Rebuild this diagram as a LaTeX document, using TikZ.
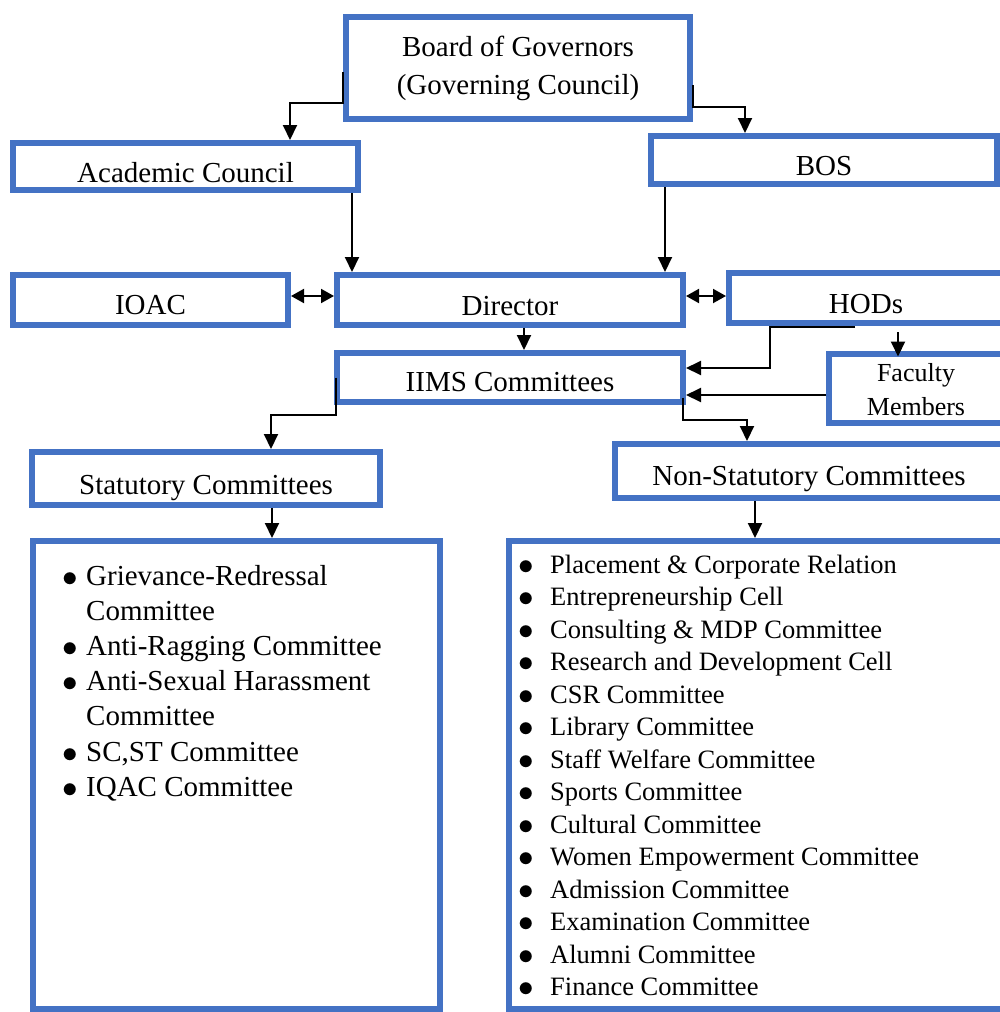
\documentclass[tikz,border=0pt]{standalone}
\usepackage{fontspec}
\usepackage{graphicx}
\setmainfont{Liberation Serif}
\usetikzlibrary{arrows.meta,calc}
\definecolor{boxblue}{HTML}{4472C4}
\newcommand{\mybul}{\raisebox{-0.04em}{\scalebox{1.25}{$\bullet$}}}
\begin{document}
\begin{tikzpicture}[x=1pt,y=-1pt,
  box/.style={draw=boxblue, line width=6pt, inner sep=0pt, align=center,
    font=\fontsize{29}{38}\selectfont},
  th/.style={text height=#1, text depth=0pt},
  arr/.style={line width=2pt, -{Triangle[length=15pt,width=14pt]}},
  dbl/.style={line width=2pt, {Triangle[length=13pt,width=14pt]}-{Triangle[length=13pt,width=14pt]}},
  listtext/.style={anchor=base west, inner sep=0pt}]
\useasboundingbox (0,0) rectangle (1000,1012);
\clip (0,0) rectangle (1000,1012);

% boxes
\node[box, minimum width=344pt, minimum height=102pt] (board) at (518,68) {Board of Governors\\(Governing Council)};
\node[box, th=32pt, minimum width=345pt, minimum height=47pt] (acad) at (185.5,166.5) {Academic Council};
\node[box, th=31pt, minimum width=346pt, minimum height=48pt] (bos) at (824,160) {BOS};
\node[box, th=29pt, minimum width=275pt, minimum height=50pt] (ioac) at (150.5,300) {IOAC};
\node[box, th=30pt, minimum width=346pt, minimum height=50pt] (dir) at (510,300) {Director};
\node[box, th=30pt, minimum width=274pt, minimum height=50pt] (hods) at (866,298) {HODs};
\node[box, th=28pt, minimum width=346pt, minimum height=49pt] (iims) at (510,377.5) {IIMS Committees};
\node[box, minimum width=174pt, minimum height=69pt, font=\fontsize{26}{34}\selectfont] (fac) at (916,388) {\rule{0pt}{22pt}Faculty\\Members};
\node[box, th=32pt, minimum width=348pt, minimum height=53pt] (stat) at (206,478.5) {Statutory Committees};
\node[box, th=28pt, minimum width=388pt, minimum height=54pt] (nonstat) at (809,471) {Non-Statutory Committees};
\node[box, minimum width=407pt, minimum height=468pt] (lbox) at (236,775) {};
\node[box, minimum width=494pt, minimum height=468pt] (rbox) at (756,775) {};

% lists
\node[listtext, font=\fontsize{29}{35.2}\selectfont] (slist) at (62,585) {%
\begin{tabular}[t]{@{}l@{}l@{}}
\makebox[24pt][l]{\mybul} & Grievance-Redressal\\
 & Committee\\
\mybul & Anti-Ragging Committee\\
\mybul & Anti-Sexual Harassment\\
 & Committee\\
\mybul & SC,ST Committee\\
\mybul & IQAC Committee
\end{tabular}};

\node[listtext, font=\fontsize{26.5}{32.5}\selectfont] (nlist) at (518,573) {%
\begin{tabular}[t]{@{}l@{}l@{}}
\makebox[32pt][l]{\mybul} & Placement \& Corporate Relation\\
\mybul & Entrepreneurship Cell\\
\mybul & Consulting \& MDP Committee\\
\mybul & Research and Development Cell\\
\mybul & CSR Committee\\
\mybul & Library Committee\\
\mybul & Staff Welfare Committee\\
\mybul & Sports Committee\\
\mybul & Cultural Committee\\
\mybul & Women Empowerment Committee\\
\mybul & Admission Committee\\
\mybul & Examination Committee\\
\mybul & Alumni Committee\\
\mybul & Finance Committee
\end{tabular}};

% connectors
\draw[arr] ([yshift=-4pt]board.west) -- ++(0,31) -| ([xshift=104.5pt]acad.north);
\draw[arr] ([yshift=-17pt]board.east) -- ++(0,22) -| ([xshift=-79pt]bos.north);
\draw[arr] ([xshift=166.5pt]acad.south) -- ([xshift=166.5pt]acad.south |- dir.north);
\draw[arr] ([xshift=-159pt]bos.south) -- ([xshift=-159pt]bos.south |- dir.north);
\draw[dbl] ([yshift=4pt]ioac.east) -- ([yshift=4pt]dir.west);
\draw[dbl] ([yshift=4pt]dir.east) -- ([yshift=4pt]dir.east -| hods.west);
\draw[arr] ([xshift=14pt]dir.south) -- ([xshift=14pt]dir.south |- iims.north);
\draw[arr] ([xshift=-11pt,yshift=-1pt]hods.south) -- ++(-85,0) |- ([yshift=9.5pt]iims.east);
\draw[arr] ([xshift=32pt,yshift=-6pt]hods.south) -- ([xshift=32pt,yshift=-6pt]hods.south |- fac.north);
\draw[arr] ([yshift=-7pt]fac.west) -- ([yshift=-7pt]fac.west -| iims.east);
\draw[arr] ([xshift=2pt]iims.west) -- ++(0,37) -| ([xshift=65pt]stat.north);
\draw[arr] ([xshift=-3pt,yshift=-20pt]iims.east) -- ++(0,22) -| ([xshift=-62pt]nonstat.north);
\draw[arr] ([xshift=66pt]stat.south) -- ([xshift=66pt]stat.south |- lbox.north);
\draw[arr] ([xshift=-54pt]nonstat.south) -- ([xshift=-54pt]nonstat.south |- rbox.north);
\end{tikzpicture}
\end{document}
